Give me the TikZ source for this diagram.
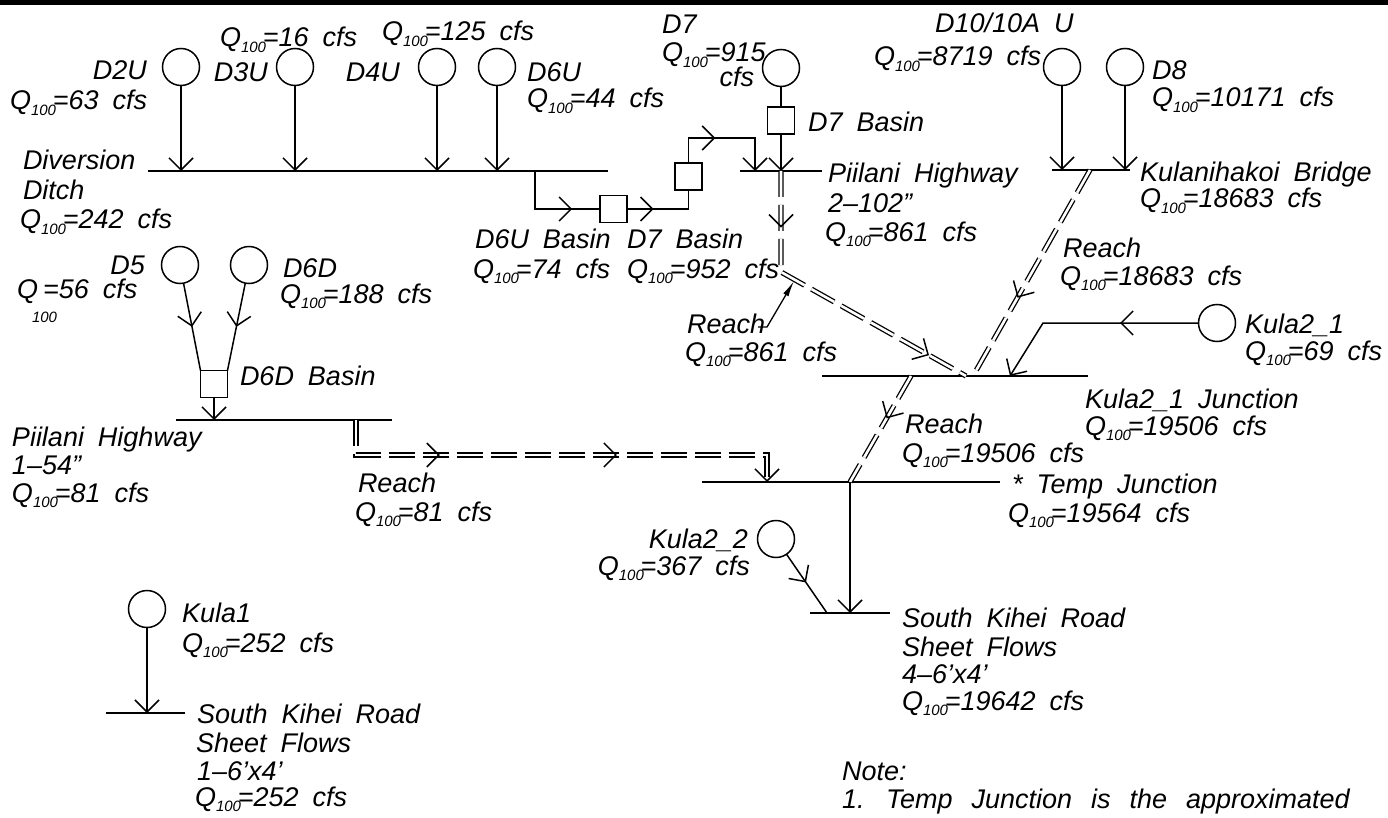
\documentclass[tikz,border=0pt]{standalone}
\usepackage{fontspec}
\setmainfont{Liberation Sans}
\usetikzlibrary{arrows.meta,decorations.markings,calc}
\newcommand\qh{Q\raisebox{-0.22em}{\fontsize{15}{15}\selectfont 100}\kern-0.12em=}
\newcommand\labfont{\fontsize{27}{29}\selectfont\itshape\spaceskip 14pt\relax}
\newcommand\subfont{\fontsize{15}{15}\selectfont\itshape}
\begin{document}
\begin{tikzpicture}[x=1pt,y=-1pt,
  every node/.style={inner sep=0pt,outer sep=0pt},
  lab/.style={font=\labfont,anchor=base west},
  labr/.style={font=\labfont,anchor=base east},
  ln/.style={line width=1.5pt},
  catch/.style={draw,circle,line width=1.5pt,minimum size=37pt},
  basin/.style={draw,rectangle,line width=1.5pt,minimum width=27pt,minimum height=27pt},
  endarr/.style={-{Straight Barb[length=12pt,width=24pt]}},
  marr/.style={postaction={decorate,decoration={markings,mark=at position #1 with {\arrow{Straight Barb[length=12pt,width=24pt,line width=1.5pt]}}}}},
  reach/.style={double,double distance=2.6pt,line width=1.3pt,dash pattern=on 26pt off 8pt},
  ldr/.style={line width=1.3pt,-{Latex[length=16pt,width=6pt]}}]
\useasboundingbox (0,0) rectangle (1388,818);
\fill (0,0.5) rectangle (1388,5);

% junction lines
\coordinate (divL) at (148,171); \coordinate (divR) at (608,171);
\coordinate (p2L) at (740,171);  \coordinate (p2R) at (822,171);
\coordinate (kbL) at (1052,170); \coordinate (kbR) at (1130,170);
\coordinate (kjL) at (822,376);  \coordinate (kjR) at (1088,376);
\coordinate (p1L) at (176,420);  \coordinate (p1R) at (392,420);
\coordinate (tjL) at (702,482);  \coordinate (tjR) at (1000,482);
\coordinate (sk2L) at (810,613); \coordinate (sk2R) at (890,613);
\coordinate (sk1L) at (106,713); \coordinate (sk1R) at (185,713);
\foreach \a/\b in {divL/divR,p2L/p2R,kbL/kbR,kjL/kjR,p1L/p1R,tjL/tjR,sk2L/sk2R,sk1L/sk1R}
  \draw[ln] (\a) -- (\b);

% catchments
\node[catch] (d2u) at (181,67) {};
\node[catch] (d3u) at (295,67) {};
\node[catch] (d4u) at (437,67) {};
\node[catch] (d6u) at (497,67) {};
\node[catch] (d7) at (781,68) {};
\node[catch] (d10) at (1062,67) {};
\node[catch] (d8) at (1125,67) {};
\node[catch] (d5) at (180,265) {};
\node[catch] (d6d) at (249,265) {};
\node[catch] (k21) at (1217,323) {};
\node[catch] (k22) at (776,539) {};
\node[catch] (k1) at (147,609) {};

% basins
\node[basin] (b6u) at (613.5,209) {};
\node[basin] (b7l) at (688.5,176.5) {};
\node[basin] (b7u) at (781,120.5) {};
\node[basin] (b6d) at (214,384) {};

% drops
\foreach \n/\j in {d2u/divL,d3u/divL,d4u/divL,d6u/divL,d10/kbL,d8/kbL,k1/sk1L}
  \draw[ln,endarr] (\n) -- (\n |- \j);
\draw[ln] (d7) -- (b7u);
\draw[ln,endarr] (b7u) -- (b7u |- p2L);

% D6U basin route
\coordinate (s6u) at (535,171);
\coordinate (c7) at (755,138);
\draw[ln,marr=0.73] (s6u) |- (b6u.west);
\draw[ln,marr=0.33] (b6u.east) -| (b7l.south);
\draw[ln,marr=0.416,endarr] (b7l.north) |- (c7) -- (c7 |- p2L);

% D5 / D6D
\draw[ln,marr=0.5] (d5) -- (b6d.north west);
\draw[ln,marr=0.5] (d6d) -- (b6d.north east);
\draw[ln,endarr] (b6d) -- (b6d |- p1L);

% Kula2_1
\coordinate (k21c) at (1043,323);
\coordinate (k21e) at (1010,376);
\draw[ln,marr=0.36,endarr] (k21) -- (k21c) -- (k21e);

% Kula2_2
\coordinate (k22e) at (827,613);
\draw[ln,marr=0.48] (k22) -- (k22e);

% reaches
\coordinate (r1a) at (356,420); \coordinate (r1b) at (356,455);
\coordinate (r1c) at (767,455); \coordinate (r1d) at (767,482);
\draw[reach] (r1a) -- (r1b) -- (r1c) -- (r1d);
\path[marr=0.204] (r1b) -- (r1c);
\path[marr=0.635] (r1b) -- (r1c);
\path[marr=1] (r1c) -- (r1d);

\coordinate (r2a) at (781,171); \coordinate (r2b) at (781,272);
\coordinate (r2c) at (966,376);
\draw[reach] (r2a) -- (r2b) -- (r2c);
\path[marr=0.56] (r2a) -- (r2b);
\path[marr=0.8] (r2b) -- (r2c);

\coordinate (r3a) at (1090,170); \coordinate (r3b) at (973,376);
\draw[reach] (r3a) -- (r3b);
\path[marr=0.62] (r3a) -- (r3b);

\coordinate (r4a) at (911,376); \coordinate (r4b) at (850,482);
\draw[reach] (r4a) -- (r4b);
\path[marr=0.4] (r4a) -- (r4b);
\draw[ln,endarr] (r4b) -- (r4b |- sk2L);

% leader
\coordinate (ldA) at (758,327); \coordinate (ldB) at (767,327); \coordinate (ldC) at (794,281);
\draw[ldr] (ldA) -- (ldB) -- (ldC);

% labels
\node[labr] (tD2U) at (147,80) {D2U};
\node[lab] (tD2Uq) at (10,110) {\qh63 cfs};
\node[lab] (tD3Uq) at (220,47) {\qh16 cfs};
\node[labr] (tD3U) at (268,82) {D3U};
\node[lab] (tD4Uq) at (382,41) {\qh125 cfs};
\node[labr] (tD4U) at (400,82) {D4U};
\node[lab] (tD6U) at (527,82) {D6U};
\node[lab] (tD6Uq) at (527,108) {\qh44 cfs};
\node[lab] (tDiv1) at (23,170) {Diversion};
\node[lab] (tDiv2) at (23,200) {Ditch};
\node[lab] (tDiv3) at (20,229) {\qh242 cfs};
\node[lab] (tB6u1) at (475,248) {D6U Basin};
\node[lab] (tB6u2) at (473,278) {\qh74 cfs};
\node[lab] (tB7l1) at (627,248) {D7 Basin};
\node[lab] (tB7l2) at (627,278) {\qh952 cfs};
\node[lab] (tD7a) at (662,34) {D7};
\node[lab] (tD7b) at (662,62) {\qh915};
\node[labr] (tD7c) at (754,87) {cfs};
\node[lab] (tB7u) at (808,132) {D7 Basin};
\node[lab] (tP2a) at (828,183) {Piilani Highway};
\node[lab] (tP2b) at (828,213) {2–102”};
\node[lab] (tP2c) at (825,241) {\qh861 cfs};
\node[lab] (tD10a) at (935,33) {D10/10A U};
\node[lab] (tD10b) at (874,66) {\qh8719 cfs};
\node[lab] (tD8a) at (1152,80) {D8};
\node[lab] (tD8b) at (1152,107) {\qh10171 cfs};
\node[lab] (tKb1) at (1140,182) {Kulanihakoi Bridge};
\node[lab] (tKb2) at (1140,208) {\qh18683 cfs};
\node[lab] (tR3a) at (1063,258) {Reach};
\node[lab] (tR3b) at (1060,285) {\qh18683 cfs};
\node[labr] (tD5a) at (145,274) {D5};
\node[lab] (tD5b) at (17,298) {Q\hspace{5pt}=56 cfs};
\node[anchor=base west,font=\subfont] (tD5c) at (32,322) {100};
\node[lab] (tD6Da) at (283,277) {D6D};
\node[lab] (tD6Db) at (280,303) {\qh188 cfs};
\node[lab] (tB6d) at (240,385) {D6D Basin};
\node[lab] (tP1a) at (12,446) {Piilani Highway};
\node[lab] (tP1b) at (12,474) {1–54”};
\node[lab] (tP1c) at (12,502) {\qh81 cfs};
\node[lab] (tR1a) at (358,492) {Reach};
\node[lab] (tR1b) at (355,521) {\qh81 cfs};
\node[lab] (tR2a) at (687,333) {Reach};
\node[lab] (tR2b) at (685,361) {\qh861 cfs};
\node[lab] (tK21a) at (1245,333) {Kula2\_1};
\node[lab] (tK21b) at (1245,360) {\qh69 cfs};
\node[lab] (tKJa) at (1085,408) {Kula2\_1 Junction};
\node[lab] (tKJb) at (1085,435) {\qh19506 cfs};
\node[lab] (tR4a) at (905,433) {Reach};
\node[lab] (tR4b) at (902,462) {\qh19506 cfs};
\node[lab] (tTJa) at (1012,493) {* Temp Junction};
\node[lab] (tTJb) at (1008,522) {\qh19564 cfs};
\node[labr] (tK22a) at (748,548) {Kula2\_2};
\node[labr] (tK22b) at (750,575) {\qh367 cfs};
\node[lab] (tSK2a) at (902,627) {South Kihei Road};
\node[lab] (tSK2b) at (902,656) {Sheet Flows};
\node[lab] (tSK2c) at (902,683) {4–6’x4’};
\node[lab] (tSK2d) at (902,710) {\qh19642 cfs};
\node[lab] (tK1a) at (182,622) {Kula1};
\node[lab] (tK1b) at (182,652) {\qh252 cfs};
\node[lab] (tSK1a) at (197,723) {South Kihei Road};
\node[lab] (tSK1b) at (196,752) {Sheet Flows};
\node[lab] (tSK1c) at (197,780) {1–6’x4’};
\node[lab] (tSK1d) at (195,806) {\qh252 cfs};
\node[lab] (tN1) at (842,780) {Note:};
\node[lab,font=\labfont\spaceskip 19pt\relax] (tN2) at (842,808) {1. Temp Junction is the approximated};
\end{tikzpicture}
\end{document}
